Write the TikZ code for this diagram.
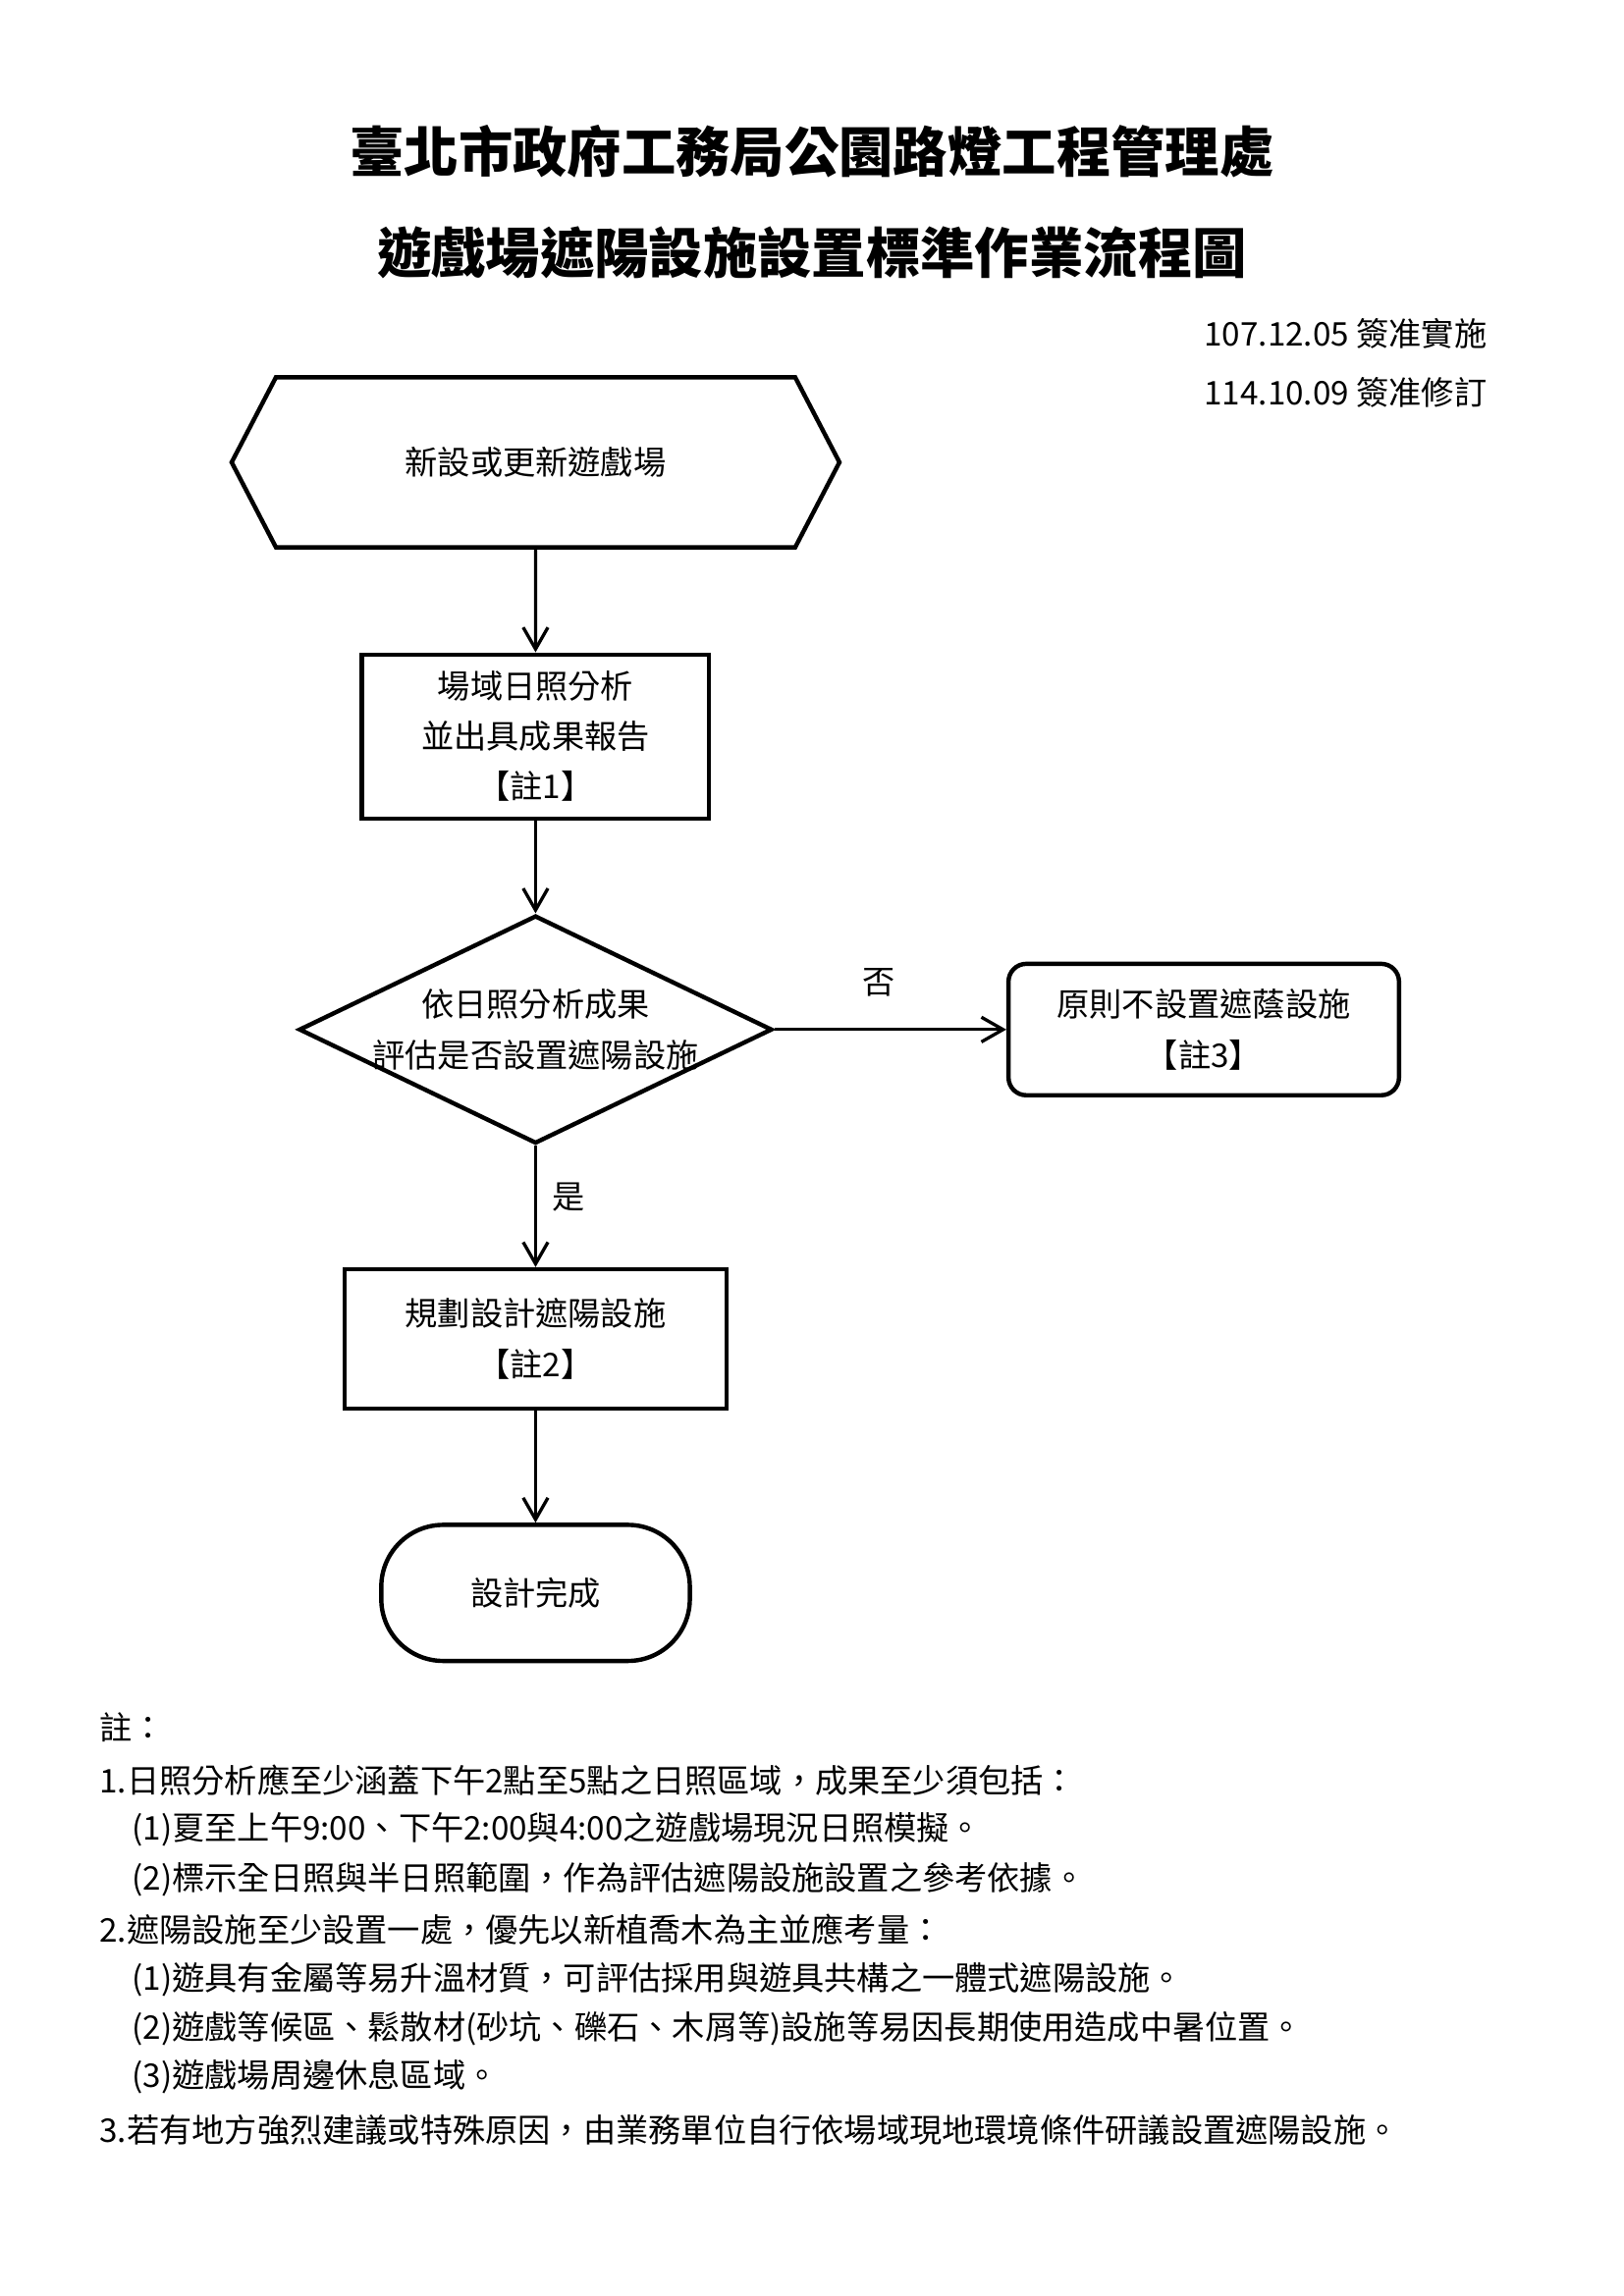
\documentclass[tikz,border=0pt]{standalone}
\usepackage{fontspec}
\newfontfamily\cjk{Noto Sans CJK TC}
\usepackage{tikz}
\usetikzlibrary{positioning, shapes.geometric, shapes.symbols, arrows.meta}
\tikzstyle{base} = [draw=black, line width=1.6pt, text centered, align=center, inner sep=0pt,
 font=\cjk\fontsize{12}{18.5}\selectfont]
\tikzstyle{flow-start} = [base, signal, signal to=east and west, signal pointer angle=125,
 minimum width=7.86cm, minimum height=2.2cm]
\tikzstyle{flow-step} = [base, rectangle]
\tikzstyle{flow-decision} = [base, diamond, aspect=2.07, inner xsep=-1.8cm, inner ysep=-0.6cm,
 minimum width=6.12cm, minimum height=2.95cm]
\tikzstyle{flow-result} = [base, rectangle, rounded corners=2.3mm, minimum width=5.05cm,
 minimum height=1.7cm]
\tikzstyle{flow-end} = [base, rectangle, rounded corners=8mm, minimum width=3.99cm,
 minimum height=1.76cm]
\tikzstyle{arrow} = [line width=1.2pt, -{Straight Barb[length=2.8mm, width=3.2mm]}]
\tikzstyle{arrow-text} = [inner sep=0, font=\cjk\fontsize{12}{14}\selectfont]
\tikzstyle{page-title} = [font=\cjk\bfseries\fontsize{20}{24}\selectfont]
\tikzstyle{date-line} = [anchor=west, inner sep=0, font=\cjk\fontsize{12}{14}\selectfont]
\tikzstyle{note-line} = [anchor=west, inner sep=0, font=\cjk\fontsize{12}{14}\selectfont]
\newcommand{\notex}{1.282}
\newcommand{\subx}{1.701}

\begin{document}
\begin{tikzpicture}
\useasboundingbox (0,0) rectangle (21,-29.7);

% Title
\node (TITLE_OFFICE) [page-title] at (10.5,-1.955) {臺北市政府工務局公園路燈工程管理處};
\node (TITLE_FLOW) [page-title] at (10.5,-3.263) {遊戲場遮陽設施設置標準作業流程圖};

\node (DATE_START) [date-line] at (15.567,-4.317) {107.12.05 簽准實施};
\node (DATE_REVISE) [date-line] at (15.567,-5.079) {114.10.09 簽准修訂};

% Flow
\node (NEW_PLAYGROUND) [flow-start] at (6.926,-5.98) {新設或更新遊戲場};

\node (SUN_ANALYSIS) [flow-step, minimum width=4.49cm, minimum height=2.12cm,
 below=1.33cm of NEW_PLAYGROUND] {場域日照分析\\並出具成果報告\\【註1】};

\node (SHADE_DECISION) [flow-decision, below=1.2cm of SUN_ANALYSIS]
 {依日照分析成果\\評估是否設置遮陽設施};

\node (NO_SHADE) [flow-result, right=3.0cm of SHADE_DECISION] {原則不設置遮蔭設施\\【註3】};

\node (SHADE_DESIGN) [flow-step, minimum width=4.94cm, minimum height=1.8cm,
 below=1.57cm of SHADE_DECISION] {規劃設計遮陽設施\\【註2】};

\node (DESIGN_DONE) [flow-end, below=1.45cm of SHADE_DESIGN] {設計完成};

% Arrows
\draw[arrow] (NEW_PLAYGROUND) -- (SUN_ANALYSIS);
\draw[arrow] (SUN_ANALYSIS) -- (SHADE_DECISION);
\draw[arrow] (SHADE_DECISION) -- node[arrow-text, pos=0.45, above=4mm] {否} (NO_SHADE);
\draw[arrow] (SHADE_DECISION) -- node[arrow-text, pos=0.42, right=2mm] {是} (SHADE_DESIGN);
\draw[arrow] (SHADE_DESIGN) -- (DESIGN_DONE);

% Notes
\node (NOTE_HEAD) [note-line] at (\notex,-22.347) {註：};
\node (NOTE_1) [note-line] at (\notex,-23.032) {1.日照分析應至少涵蓋下午2點至5點之日照區域，成果至少須包括：};
\node (NOTE_1_1) [note-line] at (\subx,-23.667) {(1)夏至上午9:00、下午2:00與4:00之遊戲場現況日照模擬。};
\node (NOTE_1_2) [note-line] at (\subx,-24.315) {(2)標示全日照與半日照範圍，作為評估遮陽設施設置之參考依據。};
\node (NOTE_2) [note-line] at (\notex,-24.962) {2.遮陽設施至少設置一處，優先以新植喬木為主並應考量：};
\node (NOTE_2_1) [note-line] at (\subx,-25.61) {(1)遊具有金屬等易升溫材質，可評估採用與遊具共構之一體式遮陽設施。};
\node (NOTE_2_2) [note-line] at (\subx,-26.245) {(2)遊戲等候區、鬆散材(砂坑、礫石、木屑等)設施等易因長期使用造成中暑位置。};
\node (NOTE_2_3) [note-line] at (\subx,-26.867) {(3)遊戲場周邊休息區域。};
\node (NOTE_3) [note-line] at (\notex,-27.552) {3.若有地方強烈建議或特殊原因，由業務單位自行依場域現地環境條件研議設置遮陽設施。};

\end{tikzpicture}
\end{document}
